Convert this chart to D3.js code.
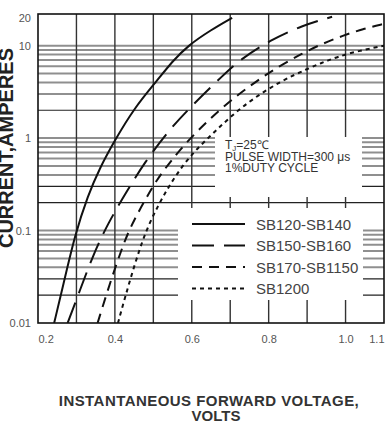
<!DOCTYPE html>
<html>
<head>
<meta charset="utf-8">
<script src="https://cdn.jsdelivr.net/npm/d3@7"></script>
<style>
  body { margin: 0; background: #fff; }
  svg { display: block; font-family: 'Liberation Sans', Arial, sans-serif; }
</style>
</head>
<body>
<svg id="chart" width="390" height="441"></svg>
<script>
// forward voltage (V) / forward current (A)
const sb120V = [0.242, 0.265, 0.296, 0.33, 0.36, 0.40, 0.45, 0.51, 0.55, 0.59, 0.65, 0.705]
const sb120I = [0.01, 0.025, 0.09, 0.24, 0.47, 0.95, 2.1, 4.2, 6.8, 10, 14.8, 20]

const sb150V = [0.277, 0.309, 0.343, 0.382, 0.432, 0.478, 0.536, 0.588, 0.686, 0.725, 0.804, 0.887, 0.965]
const sb150I = [0.01, 0.0225, 0.054, 0.12, 0.27, 0.55, 1.15, 2.0, 5.0, 7.0, 11.5, 16.5, 20.5]

const sb170V = [0.355, 0.387, 0.426, 0.45, 0.48, 0.51, 0.545, 0.59, 0.68, 0.77, 0.83, 0.887, 0.939, 0.993, 1.045, 1.10]
const sb170I = [0.01, 0.027, 0.08, 0.13, 0.22, 0.36, 0.56, 0.95, 2.2, 4.2, 6.1, 8.2, 10.5, 12.8, 15.2, 17.2]

const sb1200V = [0.408, 0.432, 0.473, 0.51, 0.551, 0.6, 0.653, 0.7, 0.76, 0.835, 0.9, 0.952, 1.012, 1.10]
const sb1200I = [0.01, 0.023, 0.085, 0.18, 0.36, 0.68, 1.1, 1.7, 2.7, 4.2, 5.6, 6.9, 8.4, 10]

const legendLabels = ['SB120-SB140', 'SB150-SB160', 'SB170-SB1150', 'SB1200']

const voltTicks = [0.2, 0.4, 0.6, 0.8, 1.0, 1.1]
const voltGrid = [0.3, 0.4, 0.5, 0.6, 0.7, 0.8, 0.9, 1.0]
const currentTicks = [0.01, 0.1, 1, 10, 20]
const currentGridGray = [0.04, 0.05, 0.06, 0.07, 0.08, 0.09, 0.1, 0.4, 0.5, 0.6, 0.7, 0.8, 0.9, 1, 4, 5, 6, 7, 8, 9, 10]
const currentGridDark = [0.02, 0.03, 0.2, 0.3, 2, 3]

const svg = d3.select('#chart')
const pLeft = 38, pRight = 384, pTop = 14, pBottom = 323

const x = d3.scaleLinear().domain([0.2, 1.1]).range([pLeft, pRight])
const y = d3.scaleLog().domain([0.01, 22]).range([pBottom, pTop])

svg.append('clipPath').attr('id', 'plot')
  .append('rect')
  .attr('x', pLeft).attr('y', pTop)
  .attr('width', pRight - pLeft).attr('height', pBottom - pTop)

const grid = svg.append('g')

grid.selectAll('.hg')
  .data(currentGridGray)
  .enter()
  .append('line')
  .attr('x1', pLeft).attr('x2', pRight)
  .attr('y1', d => y(d)).attr('y2', d => y(d))
  .attr('stroke', '#8f8f8f')
  .attr('stroke-width', 2)

grid.selectAll('.hd')
  .data(currentGridDark)
  .enter()
  .append('line')
  .attr('x1', pLeft).attr('x2', pRight)
  .attr('y1', d => y(d)).attr('y2', d => y(d))
  .attr('stroke', '#222')
  .attr('stroke-width', 1.2)

grid.selectAll('.vg')
  .data(voltGrid)
  .enter()
  .append('line')
  .attr('x1', d => x(d)).attr('x2', d => x(d))
  .attr('y1', pTop).attr('y2', pBottom)
  .attr('stroke', '#333')
  .attr('stroke-width', 1.4)

// white boxes behind the notes and the legend
svg.append('rect')
  .attr('x', 215).attr('y', 137).attr('width', 147).attr('height', 60)
  .attr('fill', '#fff')
svg.append('rect')
  .attr('x', 178).attr('y', 208).attr('width', 185).attr('height', 92)
  .attr('fill', '#fff')

svg.append('rect')
  .attr('x', pLeft).attr('y', pTop)
  .attr('width', pRight - pLeft).attr('height', pBottom - pTop)
  .attr('fill', 'none')
  .attr('stroke', '#111')
  .attr('stroke-width', 1.6)

const series = [
  { v: sb120V, i: sb120I, dash: null },
  { v: sb150V, i: sb150I, dash: '22,10' },
  { v: sb170V, i: sb170I, dash: '10,7' },
  { v: sb1200V, i: sb1200I, dash: '4,4' }
]

const line = d3.line()
  .x(d => x(d[0]))
  .y(d => y(d[1]))
  .curve(d3.curveBasis)

svg.append('g')
  .attr('clip-path', 'url(#plot)')
  .selectAll('path')
  .data(series)
  .enter()
  .append('path')
  .attr('d', s => line(s.v.map((v, k) => [v, s.i[k]])))
  .attr('fill', 'none')
  .attr('stroke', '#111')
  .attr('stroke-width', 2)
  .attr('stroke-dasharray', s => s.dash)

// axes: labels only
const xAxis = svg.append('g')
  .attr('transform', `translate(0, ${pBottom + 9})`)
  .call(d3.axisBottom(x).tickValues(voltTicks).tickSize(0).tickFormat(d3.format('.1f')))
xAxis.select('.domain').remove()
xAxis.selectAll('text')
  .style('font-size', '11px')
  .style('fill', '#555')
  .attr('text-anchor', (d, k) => k === 0 ? 'start' : k === voltTicks.length - 1 ? 'end' : 'middle')

const yAxis = svg.append('g')
  .attr('transform', `translate(${pLeft - 4}, 0)`)
  .call(d3.axisLeft(y).tickValues(currentTicks).tickSize(0).tickFormat(d => String(d)))
yAxis.select('.domain').remove()
yAxis.selectAll('text')
  .style('font-size', '11px')
  .style('fill', '#555')

// conditions note
const note = svg.append('g')
  .style('font-size', '12px')
  .style('fill', '#333')
const tj = note.append('text').attr('x', 225).attr('y', 149)
tj.append('tspan').text('T')
tj.append('tspan').text('J').style('font-size', '8px').attr('dy', 2)
tj.append('tspan').text('=25℃').attr('dy', -2)
note.append('text').attr('x', 225).attr('y', 160.5).text('PULSE WIDTH=300 μs')
note.append('text').attr('x', 225).attr('y', 172).text('1%DUTY CYCLE')

// legend
const legend = svg.append('g')
  .selectAll('g')
  .data(legendLabels)
  .enter()
  .append('g')
  .attr('transform', (d, k) => `translate(0, ${224 + k * 21.5})`)

legend.append('line')
  .attr('x1', 192).attr('x2', 245)
  .attr('stroke', '#111')
  .attr('stroke-width', 1.8)
  .attr('stroke-dasharray', (d, k) => series[k].dash)

legend.append('text')
  .text(d => d)
  .attr('x', 256)
  .attr('y', 5.5)
  .style('font-size', '15px')
  .style('fill', '#444')

svg.append('text')
  .text('CURRENT,AMPERES')
  .attr('transform', 'translate(12.5, 148) rotate(-90)')
  .attr('text-anchor', 'middle')
  .style('font-size', '20px')
  .style('font-weight', 'bold')
  .style('fill', '#222')

svg.append('text')
  .text('INSTANTANEOUS FORWARD VOLTAGE,')
  .attr('x', 209).attr('y', 406)
  .attr('text-anchor', 'middle')
  .style('font-size', '15px')
  .style('font-weight', 'bold')
  .style('letter-spacing', '0.45px')
  .style('fill', '#333')

svg.append('text')
  .text('VOLTS')
  .attr('x', 216).attr('y', 421)
  .attr('text-anchor', 'middle')
  .style('font-size', '15px')
  .style('font-weight', 'bold')
  .style('fill', '#333')
</script>
</body>
</html>
